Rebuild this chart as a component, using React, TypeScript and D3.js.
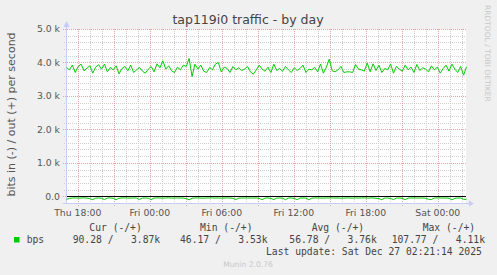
import React from "react";
import * as d3 from "d3";

const W = 497;
const H = 275;

const title = "tap119i0 traffic - by day";
const yLabel = "bits in (-) / out (+) per second";
const watermark = "RRDTOOL / TOBI OETIKER";
const footer = "Munin 2.0.76";
const lastUpdate = "Last update: Sat Dec 27 02:21:14 2025";

const startTime = Date.UTC(2025, 11, 25, 17, 3, 30);
const endTime = Date.UTC(2025, 11, 27, 2, 23, 30);

const yTicks = [0, 1000, 2000, 3000, 4000, 5000];
const yTickLabels = ["0.0", "1.0 k", "2.0 k", "3.0 k", "4.0 k", "5.0 k"];

// out (+) traffic, bits per second
const outBps = [
  3850, 3780, 3920, 3700, 3880, 3950, 3750, 3830, 3900, 3680,
  3860, 3930, 3800, 3950, 3720, 3850, 3780, 3900, 3660, 3820,
  3880, 3750, 3920, 3700, 3780, 3850, 3740, 3680, 3800, 3880,
  3720, 3960, 3840, 4050, 3800, 3900, 3750, 3700, 3860, 3780,
  3920, 3880, 4120, 3580, 3950, 3800, 3920, 3740, 3700, 3850,
  3780, 3950, 4000, 3720, 3860, 3820, 3700, 3880, 3780, 3840,
  3760, 3800, 3880, 3720, 3650, 3780, 3920, 3800, 3740, 3860,
  3700, 3950, 3760, 3820, 3740, 3880, 3780, 3700, 3840, 3760,
  3820, 3920, 3700, 3800, 3780, 3850, 3720, 3950, 3680, 3860,
  4100, 3750, 3720, 3780, 3880, 3700, 3720, 3720, 3700, 3940,
  3800, 3780, 3740, 3980, 3720, 3960, 3760, 3920, 3700, 3820,
  3780, 3950, 3680, 3880, 3800, 3740, 3920, 3780, 3860, 3700,
  3940, 3760, 3840, 3800, 3720, 3900, 3780, 3860, 3680, 3820,
  3920, 3740, 3950, 3800, 3700, 3880, 3620, 3870,
];

// in (-) traffic, bits per second (drawn negative)
const inBps = [
  95, 60, 52, 48, 55, 50, 47, 53, 70, 100,
  55, 50, 58, 98, 52, 49, 60, 102, 54, 50,
  47, 52, 55, 49, 51, 96, 53, 50, 58, 99,
  52, 48, 51, 55, 50, 46, 52, 54, 49, 50,
  53, 70, 104, 55, 50, 48, 52, 55, 49, 51,
  47, 53, 50, 56, 52, 48, 51, 60, 97, 55,
  50, 52, 48, 54, 51, 49, 62, 100, 54, 50,
  65, 98, 52, 50, 58, 101, 53, 50, 62, 99,
  52, 49, 56, 103, 54, 50, 48, 52, 55, 49,
  51, 47, 53, 50, 56, 52, 48, 51, 55, 49,
  52, 50, 47, 53, 51, 49, 60, 70, 100, 53,
  50, 65, 98, 52, 50, 62, 101, 54, 50, 48,
  52, 49, 51, 60, 88, 96, 52, 50, 48, 53,
  49, 58, 105, 60, 52, 50, 90, 90,
];

const legendHeaders = ["Cur (-/+)", "Min (-/+)", "Avg (-/+)", "Max (-/+)"];
const legendValues = ["90.28 /   3.87k", "46.17 /   3.53k", "56.78 /   3.76k", "107.77 /   4.11k"];

const GREEN = "#00cc00";
const MINOR = "#cfcfcf";
const MAJOR = "#e0a8a8";
const AXIS = "#c6cdf2";

export default function App() {
  const x = d3.scaleUtc().domain([startTime, endTime]).range([66.5, 466.5]);
  const y = d3.scaleLinear().domain([-200, 5000]).range([203, 29]);
  const px = (v: number) => Math.round(v) + 0.5;

  const timeAt = (i: number, n: number) => startTime + (i * (endTime - startTime)) / (n - 1);
  const outLine = d3
    .line<number>()
    .x((_, i) => x(timeAt(i, outBps.length)))
    .y((d) => y(d));
  const inLine = d3
    .line<number>()
    .x((_, i) => x(timeAt(i, inBps.length)))
    .y((d) => y(-d));

  const hours = d3.utcHour.every(1)!.range(new Date(startTime), new Date(endTime));
  const fmt = d3.utcFormat("%a %H:%M");
  const minorY = d3.range(0, 5001, 200).filter((v) => v % 1000 !== 0);

  const xLeft = 67;
  const xRight = 466;
  const yTop = 29;
  const yBottom = 203;

  const sans = "DejaVu Sans, sans-serif";
  const mono = "DejaVu Sans Mono, monospace";
  const headerX = [89.3, 200, 311.7, 422.7];
  const valueX = [72.7, 180, 289.3, 391.7];

  return (
    <svg width={W} height={H} style={{ position: "absolute", left: 0, top: 0, display: "block" }}>
      <rect x={0} y={0} width={W} height={H} fill="#f0f0f0" />
      <rect x={xLeft} y={yTop} width={xRight - xLeft} height={yBottom - yTop} fill="#ffffff" />

      {/* minor horizontal grid */}
      {minorY.map((v) => (
        <line key={"mh" + v} x1={64} x2={xRight} y1={px(y(v))} y2={px(y(v))} stroke={MINOR} strokeDasharray="1,1" />
      ))}
      {/* minor vertical grid */}
      {hours
        .filter((h) => h.getUTCHours() % 3 !== 0)
        .map((h) => (
          <line key={"mv" + +h} x1={px(x(h))} x2={px(x(h))} y1={yTop} y2={205} stroke={MINOR} strokeDasharray="1,1" />
        ))}
      {/* major horizontal grid */}
      {yTicks.map((v) => (
        <line key={"Mh" + v} x1={63} x2={xRight} y1={px(y(v))} y2={px(y(v))} stroke={MAJOR} strokeDasharray="1,1" />
      ))}
      {/* major vertical grid */}
      {hours
        .filter((h) => h.getUTCHours() % 3 === 0)
        .map((h) => (
          <line key={"Mv" + +h} x1={px(x(h))} x2={px(x(h))} y1={yTop} y2={206} stroke={MAJOR} strokeDasharray="1,1" />
        ))}

      {/* axes */}
      <line x1={66.5} x2={66.5} y1={26} y2={204} stroke={AXIS} />
      <polygon points="63.5,27 69.5,27 66.5,21" fill={AXIS} />
      <line x1={63} x2={470} y1={203.5} y2={203.5} stroke={AXIS} />
      <polygon points="469,200.5 469,206.5 474,203.5" fill={AXIS} />

      {/* zero line */}
      <line x1={xLeft} x2={xRight} y1={px(y(0))} y2={px(y(0))} stroke="#000000" />

      {/* data */}
      <path d={outLine(outBps) || ""} fill="none" stroke={GREEN} strokeWidth={1} />
      <path d={inLine(inBps) || ""} fill="none" stroke={GREEN} strokeWidth={1} />

      {/* y tick labels */}
      {yTicks.map((v, i) => (
        <text key={"yl" + v} x={60} y={y(v)} dy="0.35em" textAnchor="end" fontFamily={sans} fontSize={9.3} fill="#555">
          {yTickLabels[i]}
        </text>
      ))}
      {/* x tick labels */}
      {hours
        .filter((h) => h.getUTCHours() % 6 === 0)
        .map((h) => (
          <text key={"xl" + +h} x={x(h)} y={216} textAnchor="middle" fontFamily={sans} fontSize={9.3} fill="#555">
            {fmt(h)}
          </text>
        ))}

      {/* title */}
      <text x={248} y={24} textAnchor="middle" fontFamily={sans} fontSize={12.5} fill="#444">
        {title}
      </text>
      {/* y axis label */}
      <text
        transform={`translate(15,114.5) rotate(-90)`}
        textAnchor="middle"
        fontFamily={sans}
        fontSize={11}
        fill="#555"
      >
        {yLabel}
      </text>
      {/* watermark */}
      <text transform={`translate(485,5) rotate(90)`} fontFamily={sans} fontSize={7.5} fill="#c8c8c8">
        {watermark}
      </text>

      {/* legend */}
      {legendHeaders.map((t, i) => (
        <text key={"lh" + i} x={headerX[i]} y={231} fontFamily={mono} fontSize={9.7} fill="#444" style={{ whiteSpace: "pre" }}>
          {t}
        </text>
      ))}
      <rect x={14} y={237} width={5.5} height={5.5} fill={GREEN} />
      <text x={26.7} y={243} fontFamily={mono} fontSize={9.7} fill="#444">
        bps
      </text>
      {legendValues.map((t, i) => (
        <text key={"lv" + i} x={valueX[i]} y={243} fontFamily={mono} fontSize={9.7} fill="#444" style={{ whiteSpace: "pre" }}>
          {t}
        </text>
      ))}
      <text x={266} y={255} fontFamily={mono} fontSize={9.7} fill="#444" style={{ whiteSpace: "pre" }}>
        {lastUpdate}
      </text>
      <text x={248} y={266.5} textAnchor="middle" fontFamily={sans} fontSize={7.6} fill="#c8c8c8">
        {footer}
      </text>
    </svg>
  );
}
